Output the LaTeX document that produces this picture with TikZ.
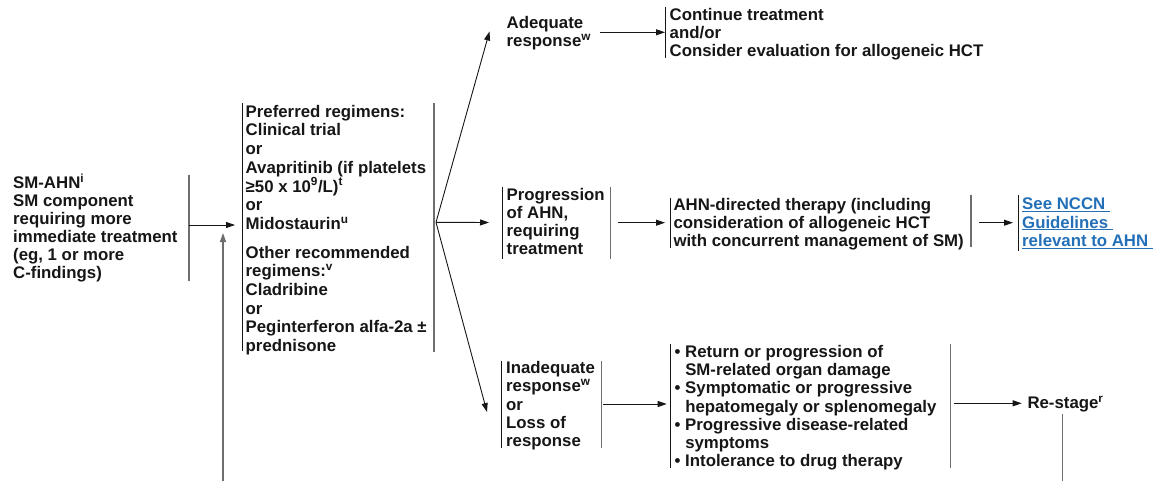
\documentclass[tikz,border=0pt]{standalone}
\usepackage{fontspec}
\setmainfont{Liberation Sans}
\usetikzlibrary{arrows.meta}
\definecolor{ink}{HTML}{161616}
\definecolor{barg}{HTML}{6E6E6E}
\definecolor{linkblue}{HTML}{2370B8}
\newcommand\flowfont{\fontsize{16.8}{18.3}\selectfont\bfseries}
\newcommand\flowfontat[1]{\fontsize{16.8}{#1}\selectfont\bfseries}
\newcommand\firststrut{\rule{0pt}{14pt}}
\newcommand\linkline[1]{\underline{#1\ }}
\begin{document}
\begin{tikzpicture}[x=1pt,y=-1pt,
  txt/.style={anchor=north west, inner sep=0pt, align=left, font=\flowfont, text=ink},
  lbar/.style={draw=ink, line width=0.8pt},
  gbar/.style={draw=barg, line width=1.4pt},
  arr/.style={draw=ink, line width=0.9pt, -{Triangle[length=9pt,width=6pt]}},
]
\useasboundingbox (0,0) rectangle (1156,481);

% text blocks
\node[txt, font=\flowfontat{18.0}] (smahn) at (13,173.5)
  {\firststrut SM-AHN\textsuperscript{i}\\SM component\\requiring more\\immediate treatment\\(eg, 1 or more\\C-findings)};
\node[txt, font=\flowfontat{18.7}] (regs) at (245.5,103)
  {\firststrut Preferred regimens:\\Clinical trial\\or\\Avapritinib (if platelets\\≥50 x 10\textsuperscript{9}/L)\textsuperscript{t}\\or\\Midostaurin\textsuperscript{u}\\[10pt]
   Other recommended\\regimens:\textsuperscript{v}\\Cladribine\\or\\Peginterferon alfa-2a ±\\prednisone};
\node[txt, font=\flowfontat{18.3}] (adeq) at (506.5,14.5)
  {\firststrut Adequate\\response\textsuperscript{w}};
\node[txt, font=\flowfontat{18.2}] (cont) at (669.5,6.3)
  {\firststrut Continue treatment\\and/or\\Consider evaluation for allogeneic HCT};
\node[txt, font=\flowfontat{18.1}] (prog) at (506.5,186)
  {\firststrut Progression\\of AHN,\\requiring\\treatment};
\node[txt, font=\flowfontat{18.0}] (ahn) at (673.3,196)
  {\firststrut AHN-directed therapy (including\\consideration of allogeneic HCT\\with concurrent management of SM)};
\node[txt, text=linkblue, font=\flowfontat{18.5}] (link) at (1022,195.3)
  {\firststrut\linkline{See NCCN}\\\linkline{Guidelines}\\\linkline{relevant to AHN}};
\node[txt, font=\flowfontat{18.35}] (inad) at (506,359.3)
  {\firststrut Inadequate\\response\textsuperscript{w}\\or\\Loss of\\response};
\node[txt, font=\flowfontat{18.2}] (bul) at (674.5,343.3)
  {\firststrut\textbullet\ Return or progression of\\\hphantom{\textbullet\ }SM-related organ damage\\
   \textbullet\ Symptomatic or progressive\\\hphantom{\textbullet\ }hepatomegaly or splenomegaly\\
   \textbullet\ Progressive disease-related\\\hphantom{\textbullet\ }symptoms\\
   \textbullet\ Intolerance to drug therapy};
\node[anchor=base west, inner sep=0pt, font=\flowfont, text=ink] (restage) at (1027.3,408.3)
  {Re-stage\textsuperscript{r}};

% bracket bars beside the text blocks
\coordinate (smR) at (189,225);
\draw[gbar] (189,175) -- (189,281);
\coordinate (regsL) at (235,225);
\draw[lbar] (242,103) -- (242,351);
\coordinate (regsR) at (436,222.3);
\draw[gbar] (434,103) -- (434,352);
\coordinate (adeqR) at (600,32.3);
\coordinate (contL) at (665,32.3);
\draw[lbar] (665,6.7) -- (665,58.3);
\coordinate (progL) at (489,222.5);
\draw[lbar] (502,186.7) -- (502,259.3);
\coordinate (progR) at (618,222.7);
\draw[gbar] (610.7,186.7) -- (610.7,259.3);
\coordinate (ahnL) at (665,222.7);
\draw[lbar] (670,198) -- (670,248);
\coordinate (ahnR) at (979,222.7);
\draw[gbar] (971,195) -- (971,247);
\coordinate (linkL) at (1013,222.7);
\draw[lbar] (1018.7,195) -- (1018.7,250.7);
\coordinate (adeqL) at (489.5,31.5);
\coordinate (inadL) at (487,412);
\draw[lbar] (501.7,360.7) -- (501.7,448.3);
\coordinate (inadR) at (603.3,404);
\draw[gbar] (601.7,360.7) -- (601.7,448.3);
\coordinate (bulL) at (666.7,404);
\draw[lbar] (670.7,344) -- (670.7,468.3);
\coordinate (bulR) at (954,403.3);
\draw[gbar] (950.7,344) -- (950.7,468.3);
\coordinate (restageL) at (1021.7,403.3);
\coordinate (restageTop) at (1062.7,414);
\coordinate (restageEnd) at (1062.7,481);
\coordinate (loopEnd) at (223,481);
\coordinate (loopTip) at (223,233);

% connectors
\draw[arr] (smR) -- (regsL);
\draw[arr, draw=barg, line width=1.4pt] (loopEnd) -- (loopTip);
\draw[arr] (regsR) -- (adeqL);
\draw[arr] (regsR) -- (progL);
\draw[arr] (regsR) -- (inadL);
\draw[arr] (adeqR) -- (contL);
\draw[arr] (progR) -- (ahnL);
\draw[arr] (ahnR) -- (linkL);
\draw[arr] (inadR) -- (bulL);
\draw[arr] (bulR) -- (restageL);
\draw[gbar] (restageTop) -- (restageEnd);
\end{tikzpicture}
\end{document}
